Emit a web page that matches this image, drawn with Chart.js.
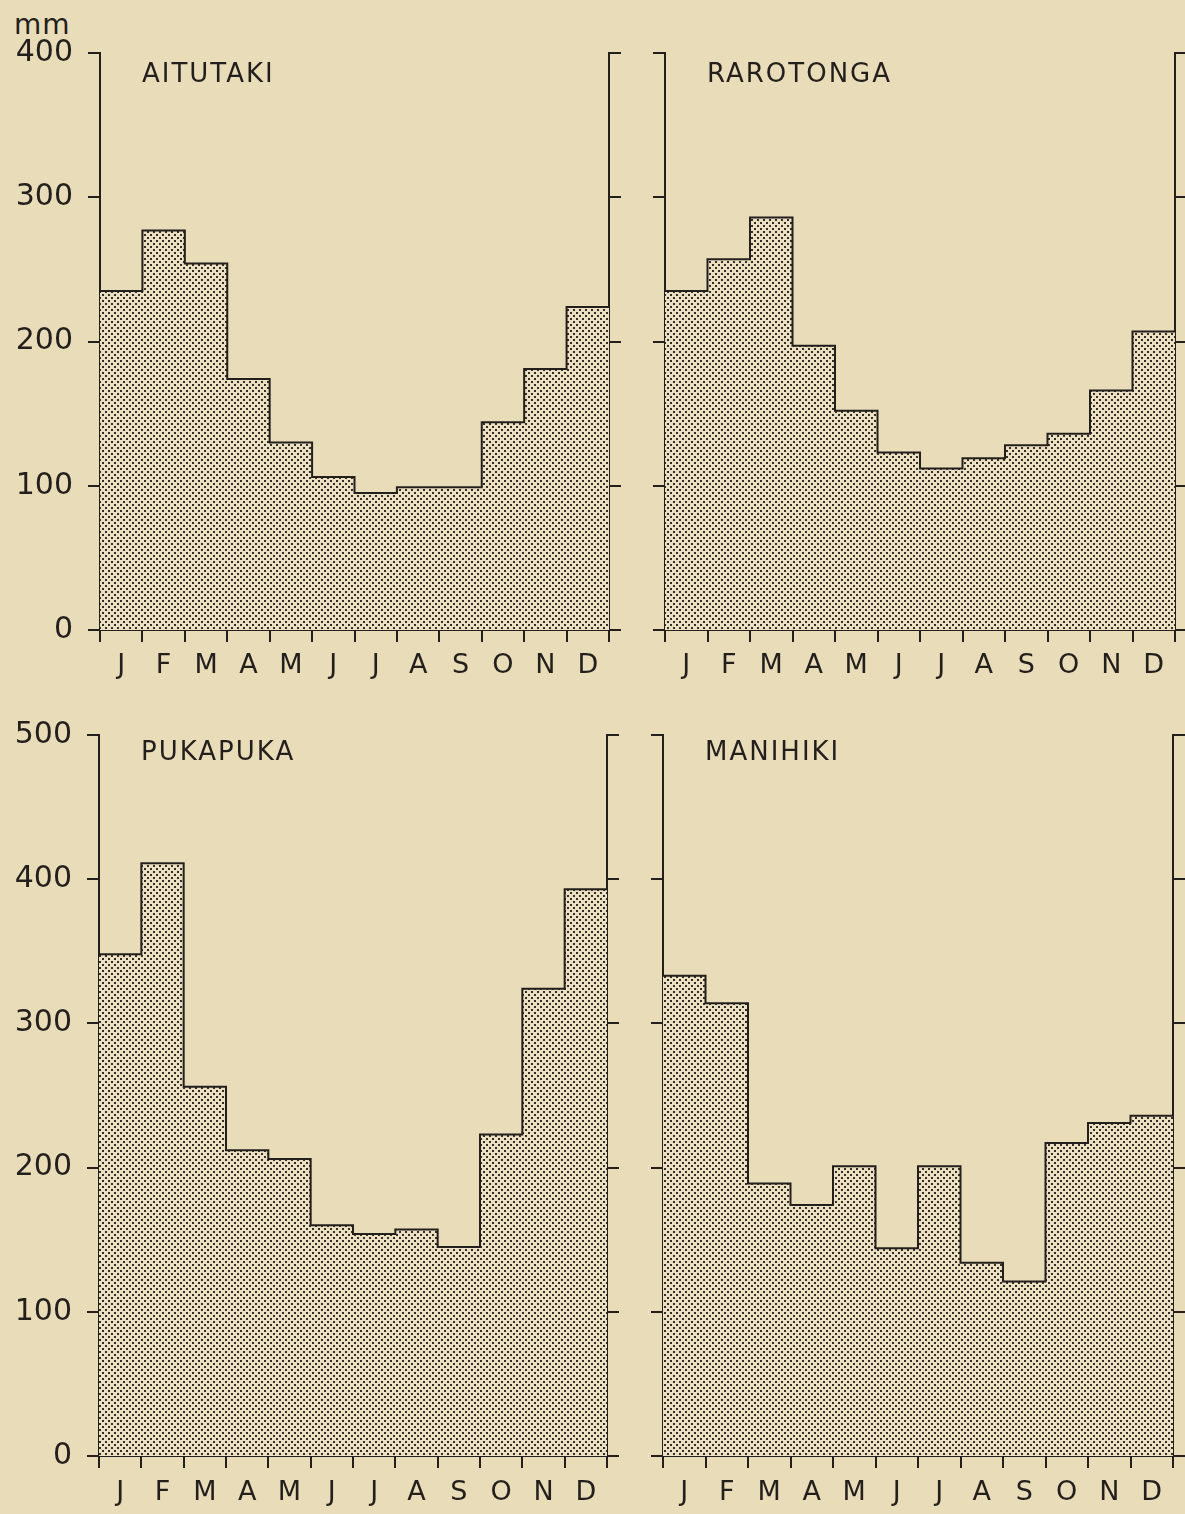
<!DOCTYPE html>
<html><head><meta charset="utf-8">
<script src="https://cdn.jsdelivr.net/npm/chart.js@4"></script>
<style>
html,body{margin:0;padding:0;background:#e9dcb9;}
body{width:1185px;height:1514px;position:relative;overflow:hidden;}
canvas{position:absolute;}
#mm{position:absolute;left:14px;top:10px;font:28px "DejaVu Sans";letter-spacing:1px;color:#231f1c;line-height:30px;}
</style></head><body>
<div id="mm">mm</div>
<canvas id="c1" width="640" height="700" style="left:0;top:0"></canvas>
<canvas id="c2" width="545" height="700" style="left:640px;top:0"></canvas>
<canvas id="c3" width="640" height="814" style="left:0;top:700px"></canvas>
<canvas id="c4" width="545" height="814" style="left:640px;top:700px"></canvas>
<script>
const months = ['J','F','M','A','M','J','J','A','S','O','N','D'];
const aitutaki  = [235, 277, 254, 174, 130, 106, 95, 99, 99, 144, 181, 224];
const rarotonga = [235, 257, 286, 197, 152, 123, 112, 119, 128, 136, 166, 207];
const pukapuka  = [348, 411, 256, 212, 206, 160, 154, 157, 145, 223, 324, 393];
const manihiki  = [333, 314, 189, 174, 201, 144, 201, 134, 121, 217, 231, 236];
const topMax = 400, bottomMax = 500, yStep = 100;

const INK = '#231f1c';
const FONT = '"DejaVu Sans"';

function makePattern(){
  const c = document.createElement('canvas'); c.width = 6; c.height = 6;
  const g = c.getContext('2d');
  g.fillStyle = '#ebe0c2'; g.fillRect(0,0,6,6);
  g.fillStyle = '#342d26';
  g.fillRect(0,0,2,2); g.fillRect(3,3,2,2);
  return g.createPattern(c,'repeat');
}
const pattern = makePattern();

const titlePlugin = {
  id:'panelTitle',
  afterDraw(chart, args, opts){
    const {ctx, chartArea} = chart;
    ctx.save();
    ctx.font = '26px ' + FONT;
    if ('letterSpacing' in ctx) ctx.letterSpacing = '2px';
    ctx.fillStyle = INK;
    ctx.textBaseline = 'alphabetic';
    ctx.textAlign = 'left';
    ctx.fillText(opts.text, chartArea.left + opts.dx, chartArea.top + opts.dy);
    ctx.restore();
  }
};

function panel(id, name, values, ymax, cfg){
  const pts = values.map((v,i)=>({x:i, y:v}));
  pts.push({x:values.length, y:values[values.length-1]});
  const n = months.length;
  new Chart(document.getElementById(id), {
    type:'line',
    data:{datasets:[{data:pts, stepped:'before', borderColor:INK, borderWidth:2,
      backgroundColor:pattern, fill:'origin', pointRadius:0}]},
    options:{
      responsive:false, animation:false, events:[],
      layout:{padding:{top:cfg.pt, bottom:cfg.pb, left:0, right:0}},
      plugins:{legend:{display:false}, tooltip:{enabled:false},
        panelTitle:{text:name, dx:42, dy:cfg.ty}},
      scales:{
        x:{type:'linear', min:0, max:n, z:1,
          afterBuildTicks:s=>{const t=[]; for(let i=0;i<=2*n;i++) t.push({value:i/2}); s.ticks=t;},
          ticks:{autoSkip:false, maxRotation:0, minRotation:0, padding:cfg.xpad, color:INK,
            font:{family:FONT, size:27},
            callback:(v)=> (v%1) ? months[Math.floor(v)] : ''},
          grid:{drawOnChartArea:false, tickLength:12, lineWidth:2,
            color:c=> (c.tick && c.tick.value%1===0) ? INK : 'rgba(0,0,0,0)'},
          border:{color:INK, width:2},
          afterFit:s=>{s.height=cfg.xh;}},
        y:{position:'left', min:0, max:ymax, z:1,
          ticks:{stepSize:yStep, display:cfg.labels, padding:15, color:INK, font:{family:FONT, size:30}},
          grid:{drawOnChartArea:false, tickLength:12, lineWidth:2, color:INK},
          border:{color:INK, width:2},
          afterFit:s=>{s.width=cfg.yw;}},
        y2:{position:'right', min:0, max:ymax, z:1,
          ticks:{stepSize:yStep, display:false},
          grid:{drawOnChartArea:false, tickLength:12, lineWidth:2, color:INK},
          border:{color:INK, width:2},
          afterFit:s=>{s.width=cfg.y2w;}}
      }
    },
    plugins:[titlePlugin]
  });
}

panel('c1','AITUTAKI', aitutaki, topMax, {pt:53, pb:8, xh:62, yw:100, y2w:31, labels:true, ty:29, xpad:8});
panel('c2','RAROTONGA', rarotonga, topMax, {pt:53, pb:8, xh:62, yw:25, y2w:10, labels:false, ty:29, xpad:8});
panel('c3','PUKAPUKA', pukapuka, bottomMax, {pt:35, pb:0, xh:58, yw:99, y2w:33, labels:true, ty:25, xpad:9});
panel('c4','MANIHIKI', manihiki, bottomMax, {pt:35, pb:0, xh:58, yw:23, y2w:12, labels:false, ty:25, xpad:9});
</script>
</body></html>
